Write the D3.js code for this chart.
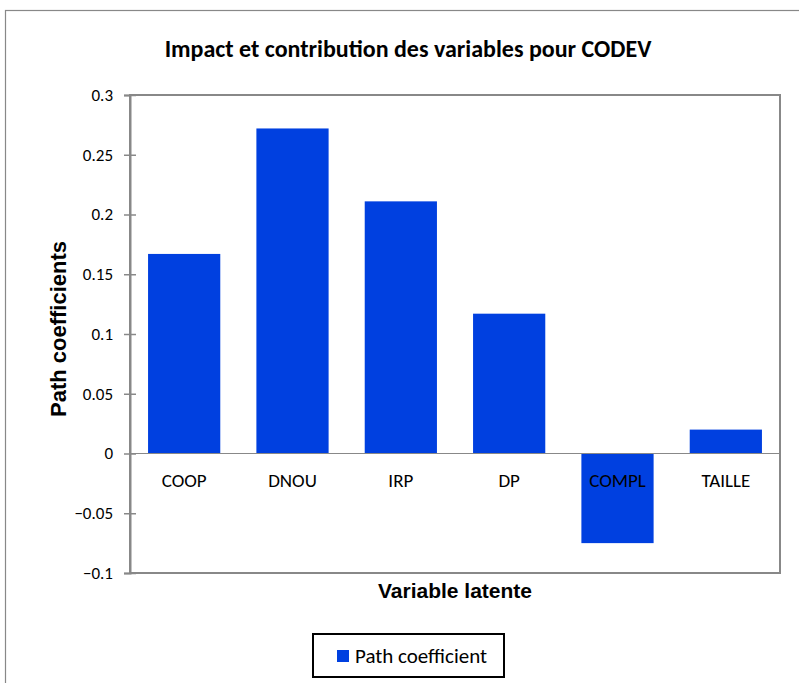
<!DOCTYPE html>
<html>
<head>
<meta charset="utf-8">
<script src="https://cdn.jsdelivr.net/npm/d3@7"></script>
<style>
  body { margin: 0; background: #fff; }
  svg { display: block; }
</style>
</head>
<body>
<script>
const categories = ["COOP", "DNOU", "IRP", "DP", "COMPL", "TAILLE"];
const values = [0.167, 0.272, 0.211, 0.117, -0.075, 0.020];
const yTicks = [-0.1, -0.05, 0, 0.05, 0.1, 0.15, 0.2, 0.25, 0.3];

const width = 799, height = 683;
const margin = {left: 130, top: 95, right: 19, bottom: 110};
const calibri = "Carlito, Lato, 'Open Sans', sans-serif";
const arial = "'Liberation Sans', Arial, sans-serif";

const svg = d3.select("body").append("svg")
  .attr("width", width)
  .attr("height", height);

// outer chart frame
svg.append("rect")
  .attr("x", 5.5).attr("y", 10.5)
  .attr("width", width + 20).attr("height", height + 20)
  .attr("fill", "none")
  .attr("stroke", "#888")
  .attr("stroke-width", 1.2);

const x = d3.scaleBand()
  .domain(categories)
  .range([margin.left, width - margin.right])
  .paddingInner(1 / 3)
  .paddingOuter(1 / 6);

const y = d3.scaleLinear()
  .domain([-0.1, 0.3])
  .range([height - margin.bottom, margin.top]);

// plot area border
svg.append("rect")
  .attr("x", margin.left).attr("y", margin.top)
  .attr("width", width - margin.right - margin.left)
  .attr("height", y(-0.1) - y(0.3))
  .attr("fill", "none")
  .attr("stroke", "#888")
  .attr("stroke-width", 2);

// bars
svg.selectAll(".bar")
  .data(values)
  .join("rect")
  .attr("class", "bar")
  .attr("x", (d, i) => x(categories[i]))
  .attr("width", x.bandwidth())
  .attr("y", d => y(Math.max(0, d)))
  .attr("height", d => Math.abs(y(d) - y(0)))
  .attr("fill", "#0040e0");

// zero line
svg.append("line")
  .attr("x1", margin.left).attr("x2", width - margin.right)
  .attr("y1", y(0)).attr("y2", y(0))
  .attr("stroke", "#888")
  .attr("stroke-width", 1.2);

// y axis
const yAxis = svg.append("g")
  .attr("transform", `translate(${margin.left},0)`)
  .call(d3.axisLeft(y).tickValues(yTicks).tickSize(6).tickPadding(11)
    .tickFormat(d => d3.format("")(+d.toFixed(2))));
yAxis.select(".domain").attr("stroke", "#888").attr("stroke-width", 2);
yAxis.selectAll(".tick line")
  .attr("x1", 6)
  .attr("stroke", "#888").attr("stroke-width", 1.5);
yAxis.selectAll(".tick text")
  .attr("fill", "#000")
  .style("font-family", calibri)
  .style("font-size", "17px");

// category labels
svg.selectAll(".cat")
  .data(categories)
  .join("text")
  .attr("class", "cat")
  .attr("x", d => x(d) + x.bandwidth() / 2)
  .attr("y", y(0) + 33)
  .attr("text-anchor", "middle")
  .style("font-family", calibri)
  .style("font-size", "19px")
  .text(d => d);

// title
svg.append("text")
  .attr("x", 408).attr("y", 57)
  .attr("text-anchor", "middle")
  .style("font-family", calibri)
  .style("font-weight", "bold")
  .style("font-size", "24px")
  .text("Impact et contribution des variables pour CODEV");

// axis titles
svg.append("text")
  .attr("transform", `translate(66,${(y(0.3) + y(-0.1)) / 2 - 5}) rotate(-90)`)
  .attr("text-anchor", "middle")
  .style("font-family", arial)
  .style("font-weight", "bold")
  .style("font-size", "22px")
  .text("Path coefficients");

svg.append("text")
  .attr("x", 455)
  .attr("y", 598)
  .attr("text-anchor", "middle")
  .style("font-family", arial)
  .style("font-weight", "bold")
  .style("font-size", "21px")
  .text("Variable latente");

// legend
const legend = svg.append("g").attr("transform", "translate(313,634)");
legend.append("rect")
  .attr("width", 191).attr("height", 43)
  .attr("fill", "#fff")
  .attr("stroke", "#000")
  .attr("stroke-width", 2);
legend.append("rect")
  .attr("x", 24).attr("y", 16)
  .attr("width", 12).attr("height", 12)
  .attr("fill", "#0040e0");
legend.append("text")
  .attr("x", 42).attr("y", 29)
  .style("font-family", calibri)
  .style("font-size", "21px")
  .text("Path coefficient");
</script>
</body>
</html>
